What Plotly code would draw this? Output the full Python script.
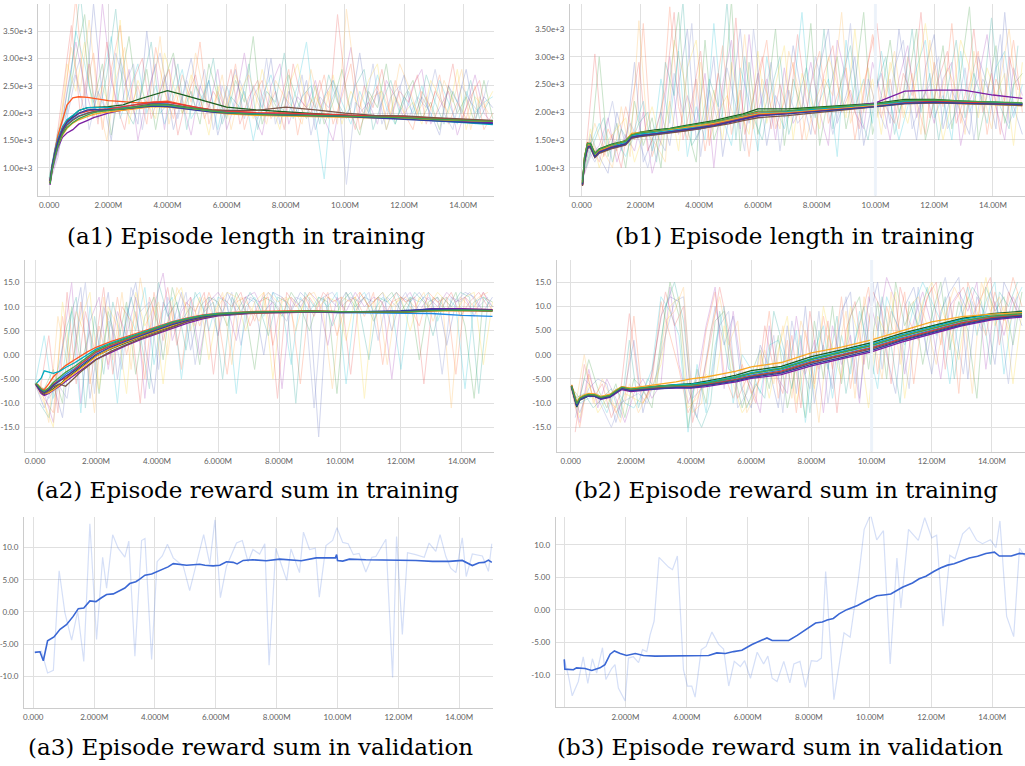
import plotly.graph_objects as go

# ---------------- step grids (millions of environment steps) ----------------
steps_smooth = [0.03, 0.1, 0.2, 0.3, 0.45, 0.6, 0.8, 1.0, 1.3, 1.5, 1.7, 2.0, 2.5, 3.0, 3.5,
                4.0, 4.5, 5.0, 5.5, 6.0, 7.0, 8.0, 9.0, 10.0, 11.0, 12.0, 13.0, 14.0, 15.0]
steps_raw = [0.0, 0.3, 0.6, 0.9, 1.2, 1.5, 1.8, 2.1, 2.4, 2.7,
             3.0, 3.3, 3.6, 3.9, 4.2, 4.5, 4.8, 5.1, 5.4, 5.7,
             6.0, 6.3, 6.6, 6.9, 7.2, 7.5, 7.8, 8.1, 8.4, 8.7,
             9.0, 9.3, 9.6, 9.9, 10.2, 10.5, 10.8, 11.1, 11.4, 11.7,
             12.0, 12.3, 12.6, 12.9, 13.2, 13.5, 13.8, 14.1, 14.4, 14.7,
             15.0]
steps_raw_mid = [0.15, 0.45, 0.75, 1.05, 1.35, 1.65, 1.95, 2.25, 2.55, 2.85,
                 3.15, 3.45, 3.75, 4.05, 4.35, 4.65, 4.95, 5.25, 5.55, 5.85,
                 6.15, 6.45, 6.75, 7.05, 7.35, 7.65, 7.95, 8.25, 8.55, 8.85,
                 9.15, 9.45, 9.75, 10.05, 10.35, 10.65, 10.95, 11.25, 11.55, 11.85,
                 12.15, 12.45, 12.75, 13.05, 13.35, 13.65, 13.95, 14.25, 14.55, 14.85]

# ---------------- tick labels ----------------
step_tick_vals = [0, 2, 4, 6, 8, 10, 12, 14]
step_tick_text = ["0.000", "2.000M", "4.000M", "6.000M", "8.000M", "10.00M", "12.00M", "14.00M"]
step_tick_text_b3 = ["", "2.000M", "4.000M", "6.000M", "8.000M", "10.00M", "12.00M", "14.00M"]
len_tick_vals = [1000, 1500, 2000, 2500, 3000, 3500]
len_tick_text = ["1.00e+3", "1.50e+3", "2.00e+3", "2.50e+3", "3.00e+3", "3.50e+3"]
rew_tick_vals = [-15, -10, -5, 0, 5, 10, 15]
rew_tick_text = ["-15.0", "-10.0", "-5.00", "0.00", "5.00", "10.0", "15.0"]
val_tick_vals = [-10, -5, 0, 5, 10]
val_tick_text = ["-10.0", "-5.00", "0.00", "5.00", "10.0"]

captions = ["(a1) Episode length in training", "(b1) Episode length in training",
            "(a2) Episode reward sum in training", "(b2) Episode reward sum in training",
            "(a3) Episode reward sum in validation", "(b3) Episode reward sum in validation"]

# ---------------- (a1) episode length, raw runs ----------------
a1_raw_1 = [780, 1450, 2600, 4100, 2300, 3100, 1700, 2800, 3600, 2000,
            2500, 1800, 3200, 2400, 1900, 2700, 2200, 3300, 1800, 2400,
            2000, 2900, 1700, 2300, 2600, 1900, 2200, 2800, 1600, 2400,
            2100, 2700, 1800, 2300, 2900, 1700, 2200, 2500, 1900, 2600,
            2000, 1700, 2400, 2100, 2700, 1800, 2200, 1900, 2500, 1700, 2000]
a1_raw_2 = [820, 1600, 2100, 3000, 3800, 2200, 2900, 1600, 2500, 3400,
            2100, 2800, 1700, 2600, 3100, 2000, 2400, 1800, 2900, 2300,
            1900, 2600, 2200, 3400, 1800, 2300, 2000, 2700, 2200, 1900,
            2500, 1800, 2200, 2800, 2000, 1600, 2400, 2100, 2900, 1800,
            2300, 2600, 1900, 2200, 1700, 2500, 2000, 2300, 1800, 2600, 1900]
a1_raw_3 = [760, 1300, 1900, 2700, 2000, 4000, 2300, 1500, 3000, 2300,
            1800, 3500, 2100, 2700, 1700, 2300, 3000, 2100, 2600, 1600,
            2200, 2800, 1900, 2500, 2100, 3000, 1800, 2400, 2000, 2600,
            1700, 2300, 2600, 1900, 2100, 3100, 2000, 2400, 1700, 2200,
            2700, 1900, 2300, 2000, 1600, 2500, 2200, 2800, 1900, 2300, 2100]
a1_raw_4 = [700, 1200, 2400, 3300, 2500, 1900, 4000, 2600, 2000, 2800,
            1500, 2300, 2900, 1700, 3000, 2200, 1600, 2500, 2100, 2800,
            1700, 2200, 3100, 2000, 1600, 2500, 2900, 1800, 2300, 2100,
            2600, 1900, 1500, 2400, 3200, 2000, 2200, 1800, 2600, 2300,
            1900, 2500, 2800, 1800, 2100, 2400, 1600, 2100, 2700, 2000, 1800]
a1_raw_5 = [800, 1700, 2000, 3500, 2900, 2100, 2600, 3400, 1900, 2400,
            2900, 2000, 2500, 1800, 2300, 2800, 1900, 2200, 2600, 1700,
            2500, 2000, 2400, 1500, 2300, 2700, 2100, 2000, 2500, 3300,
            1900, 800, 2600, 2200, 1800, 2400, 2000, 2700, 2100, 1800,
            2300, 2000, 2500, 1900, 2600, 2200, 1800, 2400, 2000, 2200, 2300]
a1_raw_6 = [740, 1400, 2900, 2400, 3300, 1900, 2500, 2000, 3700, 1800,
            2600, 2200, 1900, 3100, 2500, 2000, 2700, 2300, 1600, 2500,
            2100, 2700, 2300, 1900, 2800, 2200, 1700, 2500, 2900, 2100,
            2300, 2000, 2700, 1800, 2400, 2100, 2600, 2900, 1700, 2300,
            2000, 2200, 1800, 2600, 2300, 2000, 2800, 1700, 2300, 2100, 2400]
# raw runs logged on the intermediate steps
a1_raw_7 = [1100, 2300, 3600, 2000, 2900, 1800, 3300, 2200, 1700, 2600,
            3000, 1900, 2400, 2800, 1600, 2300, 2700, 1900, 2400, 2100,
            2800, 1800, 2300, 2600, 2000, 2400, 1700, 2900, 2200, 2000,
            2600, 1900, 3800, 2300, 1700, 2500, 2100, 2800, 1900, 2400,
            2200, 2700, 1800, 2400, 2100, 2900, 1900, 2300, 2600, 1800]
a1_raw_8 = [1250, 1900, 2800, 4200, 2500, 1900, 2700, 3900, 2100, 1800,
            2500, 3300, 2000, 2200, 2900, 1700, 2500, 2200, 3000, 1800,
            2300, 2100, 2900, 1700, 2400, 2200, 3100, 1900, 2300, 2500,
            1800, 2700, 2200, 1900, 2500, 2800, 1700, 2200, 2600, 2000,
            2400, 1900, 2700, 2200, 1800, 2400, 2000, 2600, 1900, 2200]
a1_raw_9 = [1000, 1600, 2500, 3000, 1700, 2400, 2000, 3100, 2500, 2900,
            1700, 2600, 3100, 2300, 1900, 2600, 2100, 2800, 1700, 2500,
            2000, 2600, 2100, 1900, 3000, 1800, 2300, 2000, 2700, 1600,
            2300, 2100, 2500, 700, 2200, 2000, 2900, 1800, 2300, 2500,
            1900, 2300, 2100, 2800, 2000, 1700, 2500, 2200, 2000, 2600]
a1_raw_10 = [1150, 2100, 3200, 2400, 3700, 2200, 1500, 2600, 3200, 2000,
             2300, 2100, 3400, 1800, 2500, 2000, 3100, 2300, 2000, 2700,
             1700, 2400, 2700, 2200, 1800, 2600, 2300, 2100, 1800, 2800,
             2100, 2400, 1800, 3900, 2600, 1900, 2300, 2400, 2000, 2900,
             2500, 2000, 2300, 1900, 2600, 2200, 2800, 1700, 2300, 2000]

# ---------------- (a1) episode length, smoothed runs ----------------
a1_run_1 = [780, 1050, 1350, 1600, 1900, 2150, 2280, 2300, 2290, 2270, 2250, 2230, 2210, 2190, 2200, 2220, 2160, 2100, 2060, 2040, 2010, 2000, 1980, 1950, 1930, 1910, 1900, 1870, 1850]
a1_run_2 = [720, 980, 1250, 1500, 1700, 1850, 1950, 2050, 2100, 2110, 2110, 2120, 2150, 2250, 2330, 2410, 2340, 2260, 2180, 2110, 2060, 2020, 1990, 1960, 1940, 1920, 1880, 1850, 1820]
a1_run_3 = [760, 1020, 1280, 1480, 1680, 1800, 1890, 1950, 2000, 2030, 2050, 2080, 2120, 2160, 2180, 2170, 2120, 2070, 2040, 2020, 1990, 1980, 1960, 1950, 1930, 1900, 1870, 1840, 1810]
a1_run_4 = [690, 950, 1180, 1380, 1560, 1640, 1700, 1800, 1870, 1920, 1950, 2000, 2060, 2100, 2130, 2120, 2090, 2060, 2040, 2020, 1990, 1980, 1960, 1950, 1940, 1910, 1880, 1850, 1830]
a1_run_5 = [780, 1060, 1330, 1540, 1750, 1880, 1960, 2050, 2100, 2100, 2090, 2090, 2100, 2120, 2140, 2130, 2100, 2070, 2030, 2010, 1990, 1960, 1950, 1940, 1930, 1900, 1860, 1830, 1790]
a1_run_6 = [740, 990, 1230, 1420, 1600, 1720, 1820, 1880, 1940, 1980, 2000, 2020, 2060, 2100, 2120, 2110, 2090, 2060, 2020, 1990, 1960, 1950, 1940, 1930, 1920, 1900, 1880, 1860, 1850]
a1_run_7 = [770, 1040, 1300, 1500, 1720, 1840, 1920, 1990, 2040, 2060, 2070, 2080, 2120, 2170, 2200, 2200, 2150, 2100, 2060, 2040, 2010, 2000, 1990, 1970, 1950, 1940, 1910, 1880, 1860]
a1_run_8 = [730, 1000, 1260, 1460, 1650, 1780, 1870, 1940, 2000, 2030, 2040, 2050, 2080, 2130, 2170, 2160, 2120, 2090, 2060, 2050, 2050, 2110, 2060, 2000, 1960, 1950, 1920, 1890, 1870]
a1_run_9 = [760, 1030, 1290, 1500, 1700, 1830, 1920, 2000, 2060, 2070, 2060, 2060, 2080, 2110, 2130, 2120, 2080, 2050, 2020, 2000, 1980, 1960, 1950, 1940, 1920, 1890, 1860, 1830, 1810]
a1_run_10 = [710, 970, 1220, 1400, 1620, 1740, 1830, 1900, 1970, 2010, 2030, 2050, 2090, 2120, 2150, 2150, 2110, 2070, 2040, 2010, 1980, 1970, 1960, 1950, 1930, 1920, 1890, 1870, 1850]

# ---------------- (b1) episode length, raw runs ----------------
b1_raw_1 = [720, 1500, 1100, 1700, 1300, 2100, 1500, 3600, 1200, 1700,
            3900, 2100, 1500, 2600, 1300, 2200, 3200, 1600, 2400, 1200,
            2500, 3300, 1700, 2200, 2900, 1500, 2500, 3100, 1800, 2300,
            2800, 1500, 2400, 3400, 1900, 2600, 1700, 3000, 2200, 1600,
            2900, 2100, 3600, 1800, 2500, 3100, 1600, 2600, 2200, 3300, 2000]
b1_raw_2 = [760, 1300, 3000, 1200, 1800, 1000, 2200, 1400, 1900, 1000,
            2600, 3800, 1700, 1100, 3300, 1500, 2000, 4000, 1300, 2900,
            1600, 2200, 3500, 1400, 2600, 2000, 3600, 1400, 2300, 3000,
            1700, 2500, 3800, 1600, 2300, 3300, 2000, 2500, 3500, 1500,
            2200, 3200, 1700, 2700, 3900, 1500, 2300, 3200, 1800, 2500, 2700]
b1_raw_3 = [690, 1600, 1200, 900, 2000, 1400, 2900, 1100, 1500, 2000,
            1400, 2500, 3500, 1500, 1900, 3000, 1200, 2200, 3500, 1800,
            2700, 1400, 2300, 1900, 3200, 2300, 1600, 2800, 3500, 1800,
            2300, 3000, 1400, 2200, 2700, 1800, 3500, 2400, 1500, 2800,
            3400, 1700, 2400, 2000, 1600, 3000, 2500, 1700, 3800, 2100, 1600]
b1_raw_4 = [740, 1200, 1400, 1900, 1100, 1600, 1300, 2000, 900, 1500,
            3000, 1600, 2300, 1800, 2700, 1000, 2500, 3300, 1700, 3400,
            2000, 2600, 1500, 2800, 1800, 2100, 2900, 2000, 1400, 3300,
            2600, 2000, 1700, 2900, 2300, 1500, 2600, 3200, 1900, 2400,
            1800, 2600, 2900, 1400, 2200, 2600, 3400, 2100, 1500, 2800, 2300]
b1_raw_5 = [800, 1400, 1800, 1300, 1500, 1200, 1700, 2200, 1300, 2600,
            1800, 3100, 1200, 2100, 1500, 3600, 1900, 1400, 2800, 2200,
            1300, 3000, 2100, 1700, 2300, 3800, 1900, 2200, 2600, 1200,
            3300, 2100, 2600, 1800, 3100, 2200, 1500, 2100, 2800, 3300,
            1900, 2300, 1500, 3100, 2000, 2400, 1800, 2800, 3100, 1900, 2500]
b1_raw_6 = [710, 1700, 1000, 1500, 1700, 1900, 1100, 1600, 2100, 1400,
            2200, 1300, 2800, 3300, 1700, 2400, 1500, 2900, 2000, 1600,
            3100, 1800, 2500, 3200, 1500, 2700, 2200, 1700, 3000, 2500,
            1900, 3500, 2000, 2600, 1600, 2900, 2300, 1800, 2600, 3600,
            2400, 1500, 2200, 3300, 2800, 1900, 2800, 2300, 2700, 1400, 2900]
b1_raw_7 = [1300, 3050, 1200, 1600, 1000, 2000, 2900, 1300, 1700, 2400,
            3800, 1500, 2200, 3100, 1400, 2700, 1800, 3700, 1600, 2300,
            3000, 1700, 2500, 1900, 3400, 2200, 1600, 2700, 3200, 2000,
            2400, 1700, 2900, 3600, 2100, 1800, 2700, 2300, 3800, 1900,
            2600, 3100, 1800, 2300, 3500, 2000, 2700, 1600, 3000, 2400]
b1_raw_8 = [1000, 1500, 1900, 1100, 1700, 1400, 1800, 2000, 1100, 2900,
            2300, 4000, 1400, 1700, 2600, 2100, 4000, 1500, 3000, 1900,
            1500, 2400, 3000, 1600, 2200, 2800, 1900, 3500, 1700, 2600,
            3200, 2000, 1500, 2500, 3000, 1600, 2300, 3500, 2000, 2700,
            1500, 2400, 3300, 1900, 2700, 2200, 3700, 2100, 1700, 3200]
b1_raw_9 = [1400, 1100, 1500, 2200, 1300, 1800, 1500, 1000, 1600, 1300,
            2700, 2000, 3600, 1200, 2400, 1800, 2800, 2100, 1300, 3500,
            2100, 2900, 1300, 2400, 1800, 2000, 3000, 2400, 1600, 2200,
            3600, 1500, 2600, 2100, 1700, 2800, 3300, 1700, 2200, 2500,
            3000, 1700, 2000, 2800, 1500, 2600, 2300, 3400, 1800, 2200]
b1_raw_10 = [1200, 1800, 1300, 1000, 2100, 1200, 3650, 1600, 1400, 1100,
             3300, 2700, 1800, 2900, 1500, 2000, 2300, 1800, 3400, 1700,
             2600, 2100, 1700, 3100, 2500, 1500, 2200, 2600, 2300, 3800,
             1800, 2300, 2800, 1900, 2400, 3100, 1900, 2700, 1600, 3300,
             2200, 2800, 2400, 1600, 3100, 2400, 1700, 2600, 3500, 2100]

# ---------------- (b1) episode length, smoothed runs ----------------
b1_run_1 = [680, 1200, 1450, 1420, 1250, 1330, 1360, 1390, 1440, 1470, 1590, 1620, 1650, 1680, 1720, 1760, 1810, 1870, 1930, 2000, 2020, 2070, 2110, 2150, 2200, 2210, 2190, 2170, 2150]
b1_run_2 = [720, 1180, 1430, 1440, 1260, 1340, 1380, 1420, 1460, 1490, 1600, 1640, 1680, 1710, 1760, 1800, 1850, 1910, 1970, 2060, 2060, 2090, 2120, 2160, 2230, 2230, 2200, 2180, 2160]
b1_run_3 = [700, 1120, 1380, 1390, 1210, 1290, 1330, 1370, 1410, 1440, 1560, 1590, 1620, 1650, 1690, 1730, 1780, 1840, 1900, 1960, 2000, 2040, 2080, 2120, 2180, 2190, 2170, 2150, 2130]
b1_run_4 = [690, 1100, 1350, 1370, 1190, 1270, 1310, 1350, 1390, 1420, 1540, 1570, 1600, 1630, 1670, 1700, 1750, 1810, 1870, 1930, 1980, 2030, 2100, 2170, 2380, 2400, 2400, 2310, 2250]
b1_run_5 = [710, 1160, 1410, 1410, 1230, 1310, 1350, 1390, 1430, 1460, 1580, 1610, 1640, 1670, 1710, 1750, 1800, 1860, 1920, 1980, 2010, 2060, 2100, 2140, 2200, 2210, 2200, 2180, 2150]
b1_run_6 = [700, 1170, 1420, 1400, 1240, 1320, 1350, 1400, 1450, 1480, 1620, 1640, 1660, 1690, 1720, 1760, 1800, 1860, 1910, 1970, 1990, 2030, 2070, 2110, 2160, 2170, 2150, 2140, 2120]
b1_run_7 = [690, 1140, 1390, 1380, 1200, 1290, 1330, 1370, 1400, 1430, 1550, 1580, 1610, 1640, 1680, 1720, 1770, 1830, 1890, 1950, 1980, 2020, 2060, 2100, 2170, 2200, 2180, 2160, 2140]
b1_run_8 = [670, 1100, 1360, 1360, 1180, 1260, 1300, 1340, 1380, 1410, 1530, 1560, 1590, 1620, 1660, 1700, 1740, 1790, 1850, 1900, 1940, 1990, 2040, 2090, 2150, 2170, 2160, 2140, 2120]
b1_run_9 = [700, 1130, 1370, 1390, 1200, 1280, 1320, 1360, 1400, 1430, 1550, 1580, 1610, 1640, 1680, 1720, 1760, 1820, 1880, 1940, 1970, 2010, 2060, 2100, 2160, 2180, 2160, 2150, 2140]
b1_run_10 = [730, 1190, 1440, 1430, 1250, 1330, 1370, 1410, 1450, 1480, 1590, 1630, 1660, 1700, 1740, 1780, 1830, 1890, 1950, 2020, 2030, 2080, 2110, 2150, 2210, 2220, 2200, 2190, 2170]

# ---------------- (a2) reward sum in training, raw runs ----------------
a2_raw_1 = [-6.0, -9.0, -12.0, 8.0, -4.0, 11.0, -6.0, 6.0, -2.0, 12.0,
            0.0, 9.0, -5.0, 13.0, 3.0, 10.0, -3.0, 12.0, 6.0, 13.0,
            8.0, -4.0, 11.0, 12.0, 7.0, 13.0, 2.0, 12.0, 10.0, -6.0,
            12.0, 9.0, 13.0, 4.0, 11.0, 12.0, 8.0, 13.0, -2.0, 11.0,
            12.0, 10.0, 6.0, 13.0, 11.0, 12.0, -4.0, 12.0, 10.0, 13.0, 9.0]
a2_raw_2 = [-6.0, -7.0, -3.0, -10.0, 10.0, -2.0, 5.0, -8.0, 9.0, 2.0,
            11.0, -4.0, 8.0, 12.0, -1.0, 14.0, 7.0, 10.0, -2.0, 12.0,
            11.0, 6.0, 13.0, 9.0, -3.0, 12.0, 11.0, 8.0, 13.0, 10.0,
            5.0, 12.0, 11.0, -8.0, 13.0, 10.0, 12.0, 7.0, 11.0, 13.0,
            9.0, 12.0, -1.0, 11.0, 12.0, 9.0, 13.0, 6.0, -9.0, 12.0, 11.0]
a2_raw_3 = [-6.0, -11.0, -6.0, -13.0, 4.0, 14.0, -9.0, 3.0, 13.0, -5.0,
            8.0, 15.0, 2.0, -8.0, 11.0, 6.0, 13.0, 1.0, 10.0, 12.0,
            4.0, 13.0, 9.0, 12.0, 11.0, 0.0, 13.0, 12.0, 9.0, 13.0,
            11.0, -17.0, 12.0, 10.0, 13.0, 9.0, 12.0, 11.0, 13.0, 5.0,
            12.0, 11.0, 13.0, 10.0, 12.0, 2.0, 11.0, 13.0, 12.0, 9.0, 12.0]
a2_raw_4 = [-6.0, -8.0, -14.0, 2.0, 15.0, -10.0, 7.0, 12.0, -3.0, 9.0,
            4.0, 12.0, -9.0, 10.0, 17.0, 3.0, 9.0, 12.0, 0.0, 11.0,
            13.0, 10.0, 3.0, 12.0, 13.0, 9.0, 11.0, -7.0, 12.0, 10.0,
            13.0, 11.0, 2.0, 12.0, 9.0, 13.0, 10.0, 12.0, 11.0, -5.0,
            11.0, 13.0, 9.0, 12.0, 10.0, 13.0, 11.0, 12.0, 8.0, 13.0, 10.0]
a2_raw_5 = [-6.0, 4.0, -9.0, -4.0, 9.0, -12.0, 10.0, -1.0, 7.0, -10.0,
            10.0, 5.0, 14.0, -2.0, 9.0, 12.0, -5.0, 11.0, 13.0, 5.0,
            12.0, 11.0, -8.0, 10.0, 12.0, 8.0, 13.0, 10.0, -2.0, 12.0,
            9.0, 12.0, 10.0, 13.0, -6.0, 11.0, 13.0, 9.0, 12.0, 10.0,
            -3.0, 12.0, 11.0, 13.0, 7.0, 12.0, 10.0, -7.0, 11.0, 12.0, 10.0]
a2_raw_6 = [-6.0, -10.0, -15.0, 11.0, -2.0, 7.0, 13.0, -7.0, 10.0, 6.0,
            -8.0, 13.0, 6.0, 10.0, -6.0, 11.0, 14.0, 5.0, 12.0, -1.0,
            10.0, 13.0, 12.0, 5.0, 11.0, 13.0, -5.0, 11.0, 12.0, 9.0,
            13.0, 10.0, 12.0, 11.0, 3.0, 12.0, -9.0, 11.0, 13.0, 10.0,
            12.0, 5.0, 12.0, 10.0, 13.0, 11.0, 9.0, 12.0, 13.0, -2.0, 11.0]
a2_raw_7 = [-8.0, 4.0, -12.0, 13.0, -6.0, 9.0, 1.0, 14.0, -4.0, 10.0,
            7.0, -10.0, 12.0, 6.0, 14.0, 2.0, 11.0, 9.0, 13.0, -4.0,
            12.0, 10.0, 13.0, 6.0, 11.0, 12.0, -9.0, 13.0, 10.0, 12.0,
            8.0, 13.0, 11.0, 12.0, -4.0, 13.0, 10.0, 12.0, 9.0, 13.0,
            11.0, 12.0, -6.0, 12.0, 10.0, 13.0, 8.0, 11.0, 13.0, 10.0]
a2_raw_8 = [-10.0, -13.0, -3.0, 6.0, 12.0, -11.0, 8.0, -4.0, 11.0, 3.0,
            12.0, 4.0, -7.0, 15.0, 8.0, 11.0, 1.0, 13.0, 9.0, 11.0,
            -5.0, 12.0, 9.0, 13.0, 10.0, 4.0, 12.0, 11.0, -10.0, 13.0,
            10.0, 12.0, 6.0, 11.0, 13.0, 9.0, -1.0, 12.0, 11.0, 13.0,
            9.0, 13.0, 11.0, 4.0, 12.0, 10.0, 13.0, 12.0, -8.0, 11.0]
a2_raw_9 = [-7.0, -9.0, -6.0, -9.0, 3.0, 15.0, -8.0, 10.0, 5.0, -3.0,
            14.0, 9.0, 11.0, -3.0, 12.0, 7.0, 13.0, -2.0, 10.0, 12.0,
            9.0, 13.0, 2.0, 12.0, 11.0, 13.0, 10.0, 7.0, 12.0, 11.0,
            -11.0, 12.0, 13.0, 10.0, 12.0, 11.0, 13.0, 3.0, 12.0, 10.0,
            13.0, 9.0, 12.0, 11.0, -4.0, 12.0, 11.0, 13.0, 10.0, 12.0]
a2_raw_10 = [-5.0, -14.0, 8.0, -2.0, 9.0, 4.0, -12.0, 12.0, -1.0, 13.0,
             -3.0, 16.0, 5.0, 11.0, 0.0, 14.0, 10.0, 6.0, 12.0, 8.0,
             13.0, -2.0, 12.0, 10.0, 7.0, 13.0, 11.0, 12.0, 5.0, 12.0,
             13.0, 9.0, -7.0, 12.0, 11.0, 13.0, 10.0, 12.0, -2.0, 11.0,
             12.0, 10.0, 13.0, 7.0, 12.0, -11.0, 12.0, 10.0, 12.0, 13.0]

# ---------------- (a2) reward sum in training, smoothed runs ----------------
a2_run_1 = [-6.0, -6.2, -7.0, -7.2, -6.0, -4.5, -3.3, -2.2, -1.0, -0.2, 0.6, 1.6, 2.8, 3.8, 4.9, 5.9, 6.9, 7.7, 8.3, 8.7, 9.0, 9.1, 9.2, 9.0, 9.0, 9.0, 9.4, 9.5, 9.4]
a2_run_2 = [-6.1, -6.9, -7.8, -8.2, -7.7, -7.0, -6.2, -5.0, -3.6, -2.6, -1.6, -0.2, 1.3, 2.6, 3.8, 4.9, 6.0, 7.0, 7.7, 8.3, 8.7, 8.9, 9.1, 9.0, 8.9, 8.8, 9.2, 9.3, 9.2]
a2_run_3 = [-5.9, -6.4, -7.2, -7.6, -7.0, -6.1, -5.0, -4.0, -2.8, -1.9, -1.0, 0.5, 2.0, 3.1, 4.3, 5.4, 6.5, 7.4, 8.0, 8.5, 8.8, 8.9, 9.0, 8.8, 8.7, 8.6, 8.6, 8.2, 8.0]
a2_run_4 = [-6.2, -7.0, -8.0, -8.4, -8.0, -7.3, -6.5, -5.5, -4.2, -3.2, -2.3, -0.9, 0.6, 2.0, 3.3, 4.4, 5.6, 6.6, 7.5, 8.1, 8.6, 8.8, 8.9, 8.8, 8.9, 9.0, 9.6, 9.6, 9.4]
a2_run_5 = [-6.0, -5.5, -4.8, -3.3, -3.6, -3.8, -3.4, -2.6, -1.6, -0.8, 0.0, 1.2, 2.5, 3.6, 4.7, 5.8, 6.8, 7.6, 8.2, 8.6, 8.9, 9.0, 9.0, 9.0, 9.1, 9.0, 9.2, 9.3, 9.2]
a2_run_6 = [-5.8, -6.5, -7.5, -8.0, -7.8, -7.2, -6.3, -5.2, -3.8, -2.8, -1.8, -0.3, 1.4, 2.7, 3.9, 5.0, 6.1, 7.1, 7.8, 8.3, 8.7, 8.8, 8.9, 9.0, 8.9, 8.9, 9.1, 9.2, 9.1]
a2_run_7 = [-6.1, -6.6, -7.5, -7.7, -7.0, -6.0, -5.3, -4.8, -3.0, -1.8, -0.9, 0.6, 2.0, 3.2, 4.4, 5.5, 6.6, 7.4, 8.0, 8.4, 8.9, 9.0, 9.1, 9.0, 8.9, 8.9, 9.2, 9.4, 9.3]
a2_run_8 = [-6.0, -6.8, -7.7, -8.0, -7.4, -6.6, -6.0, -6.5, -4.6, -3.5, -2.5, -1.0, 0.8, 2.2, 3.5, 4.6, 5.8, 6.9, 7.7, 8.2, 8.7, 8.9, 9.0, 8.9, 8.9, 8.9, 9.3, 9.2, 9.1]
a2_run_9 = [-6.0, -6.7, -7.4, -7.8, -7.2, -6.3, -5.4, -4.4, -3.2, -2.2, -1.3, 0.1, 1.7, 2.9, 4.1, 5.2, 6.3, 7.2, 7.9, 8.3, 8.8, 8.9, 9.0, 8.9, 9.0, 9.2, 9.5, 9.4, 9.3]
a2_run_10 = [-5.9, -6.4, -7.1, -7.5, -6.8, -5.7, -4.6, -3.6, -2.4, -1.5, -0.6, 0.9, 2.3, 3.4, 4.6, 5.7, 6.7, 7.5, 8.1, 8.5, 8.9, 9.0, 9.1, 9.0, 9.0, 8.9, 9.2, 9.3, 9.2]

# ---------------- (b2) reward sum in training, raw runs ----------------
b2_raw_1 = [-6.5, -15.0, -4.0, -10.0, -8.0, -12.0, -9.0, 8.0, -10.0, -6.0,
            11.0, 4.0, -3.0, -12.0, -8.0, 5.0, 13.0, -4.0, -9.0, -2.0,
            -8.0, -5.0, 9.0, -9.0, 3.0, -12.0, 5.0, -6.0, 8.0, -3.0,
            12.0, -7.0, 6.0, 14.0, -4.0, 10.0, 3.0, 13.0, -6.0, 9.0,
            14.0, 2.0, 12.0, -8.0, 15.0, 9.0, 4.0, 13.0, 7.0, 16.0, 10.0]
b2_raw_2 = [-6.5, -9.0, -1.0, -7.0, -11.0, -6.0, -13.0, -5.0, -7.0, -11.0,
            3.0, 15.0, 8.0, -15.0, -3.0, -10.0, 7.0, 9.0, -3.0, -11.0,
            -4.0, 1.0, -7.0, 4.0, -11.0, -2.0, -13.0, 7.0, -5.0, 10.0,
            -6.0, 8.0, 12.0, -3.0, 11.0, -5.0, 15.0, 6.0, 11.0, -2.0,
            8.0, 15.0, 1.0, 11.0, 5.0, -9.0, 14.0, 9.0, 12.0, 2.0, 13.0]
b2_raw_3 = [-6.5, -12.0, -7.0, -5.0, -6.0, -14.0, -7.0, 3.0, -12.0, -4.0,
            8.0, 12.0, 11.0, -7.0, -13.0, -1.0, 10.0, 2.0, 8.0, -7.0,
            -11.0, 2.0, -3.0, -11.0, 6.0, -8.0, 10.0, -10.0, 2.0, -7.0,
            9.0, 13.0, -9.0, 7.0, 15.0, 0.0, -8.0, 10.0, 14.0, 5.0,
            -4.0, 9.0, 13.0, 16.0, -5.0, 12.0, 8.0, -2.0, 15.0, 11.0, 6.0]
b2_raw_4 = [-6.5, -14.0, -3.0, -11.0, -5.0, -9.0, -14.0, -8.0, -5.0, -9.0,
            -6.0, 14.0, -2.0, -10.0, -5.0, 6.0, 14.0, -7.0, 9.0, -4.0,
            -6.0, -12.0, 6.0, -5.0, -8.0, 8.0, -4.0, 3.0, -12.0, 6.0,
            -2.0, 4.0, -10.0, 12.0, 5.0, 16.0, 11.0, -4.0, 7.0, 13.0,
            6.0, -5.0, 10.0, 13.0, 9.0, 15.0, -3.0, 11.0, 4.0, 12.0, 8.0]
b2_raw_5 = [-6.5, -10.0, -9.0, -8.0, -12.0, -7.0, -10.0, -11.0, -8.0, -3.0,
            12.0, 9.0, 4.0, -16.0, -2.0, -12.0, 2.0, 10.0, -10.0, 0.0,
            -3.0, -8.0, 2.0, 3.0, -3.0, 5.0, -14.0, 1.0, 6.0, -9.0,
            4.0, -4.0, 9.0, 2.0, -7.0, 12.0, 7.0, 2.0, 10.0, 15.0,
            11.0, 7.0, -6.0, 8.0, 14.0, 4.0, 11.0, 15.0, -4.0, 10.0, 14.0]
b2_raw_6 = [-6.5, -13.0, -6.0, -12.0, -9.0, -11.0, -8.0, -9.0, -10.0, -7.0,
            -2.0, 10.0, 12.0, -11.0, -9.0, -4.0, -6.0, 6.0, -6.0, -12.0,
            -9.0, 0.0, -9.0, 1.0, 8.0, -10.0, -1.0, -7.0, 10.0, 1.0,
            -5.0, 10.0, 3.0, -11.0, 8.0, 4.0, 13.0, -9.0, 4.0, 11.0,
            15.0, 10.0, 5.0, -1.0, 12.0, 7.0, 16.0, 6.0, 10.0, -6.0, 9.0]
b2_raw_7 = [-16.0, -2.0, -9.0, -6.0, -13.0, -8.0, 8.5, -6.0, -9.0, 2.0,
            13.0, 6.0, 10.0, -14.0, -6.0, 3.0, 14.0, 5.0, -9.0, -5.0,
            -10.0, 6.0, -3.0, -8.0, 4.0, -11.0, 9.0, -3.0, 7.0, -12.0,
            5.0, 11.0, -2.0, 13.0, 9.0, -6.0, 14.0, 7.0, 3.0, 12.0,
            15.0, -3.0, 11.0, 14.0, 8.0, 12.0, 16.0, 2.0, 13.0, 9.0]
b2_raw_8 = [-9.0, -8.0, -11.0, -9.0, -7.0, -13.0, 3.0, -11.0, -5.0, -7.0,
            10.0, 15.0, 7.0, -11.0, -15.0, -10.0, 9.0, -3.0, -4.0, -11.0,
            -6.0, -9.0, 9.0, 2.0, -7.0, 4.0, -12.0, 5.0, -3.0, 8.0,
            -8.0, 3.0, 10.0, -4.0, 12.0, 2.0, -10.0, 11.0, 6.0, 14.0,
            4.0, 12.0, -5.0, 9.0, 14.0, 11.0, -2.0, 13.0, 10.0, 15.0]
b2_raw_9 = [-13.0, -5.0, -7.0, -11.0, -15.0, -10.0, -9.0, -8.0, -10.0, -4.0,
            4.0, 11.0, 12.0, -9.0, -7.0, -6.0, 6.0, 9.0, -11.0, -8.0,
            -3.0, -4.0, 4.0, -12.0, 7.0, -2.0, -7.0, 9.0, -10.0, 3.0,
            12.0, -6.0, 6.0, 15.0, -3.0, 9.0, 5.0, -7.0, 14.0, 0.0,
            10.0, 16.0, 6.0, -4.0, 11.0, 5.0, 13.0, 8.0, -6.0, 12.0]
b2_raw_10 = [-11.0, 0.0, -10.0, -5.0, -9.0, -14.0, -6.0, -12.0, -8.0, -6.0,
             7.0, 9.0, 14.0, -12.0, -10.0, 5.0, 12.0, 2.0, 7.0, -12.0,
             -8.0, 1.0, -6.0, 6.0, -9.0, 7.0, 1.0, -14.0, 4.0, -1.0,
             9.0, -9.0, 12.0, 4.0, -5.0, 13.0, -2.0, 10.0, 12.0, 6.0,
             -2.0, 8.0, 14.0, 10.0, -8.0, 15.0, 9.0, 12.0, 5.0, 13.0]

# ---------------- (b2) reward sum in training, smoothed runs ----------------
b2_run_1 = [-6.3, -7.8, -10.0, -9.0, -8.5, -8.2, -8.3, -8.8, -8.4, -7.5, -6.6, -7.0, -6.7, -6.4, -6.3, -6.2, -5.8, -5.2, -4.6, -3.8, -2.8, -0.9, 0.5, 2.0, 3.9, 5.5, 7.0, 8.0, 8.5]
b2_run_2 = [-6.8, -8.3, -10.8, -9.4, -8.9, -8.5, -8.6, -9.0, -8.6, -7.7, -6.9, -7.1, -6.8, -6.4, -6.2, -6.0, -5.5, -4.9, -4.2, -3.3, -2.4, -0.4, 1.0, 2.5, 4.4, 6.0, 7.5, 8.5, 9.0]
b2_run_3 = [-6.4, -8.1, -10.3, -9.2, -8.7, -8.4, -8.5, -9.0, -8.6, -7.7, -6.9, -7.3, -7.0, -6.7, -6.6, -6.5, -6.1, -5.5, -4.9, -4.2, -3.2, -1.3, 0.1, 1.6, 3.5, 5.1, 6.7, 7.8, 8.3]
b2_run_4 = [-6.6, -8.2, -10.5, -9.3, -8.8, -8.5, -8.6, -9.2, -8.8, -8.0, -7.2, -7.6, -7.3, -7.0, -6.9, -6.9, -6.6, -6.1, -5.6, -4.9, -4.1, -2.3, -0.9, 0.6, 2.6, 4.3, 6.0, 7.2, 7.8]
b2_run_5 = [-6.5, -7.9, -10.0, -8.9, -8.4, -8.2, -8.2, -8.7, -8.3, -7.4, -6.7, -7.0, -6.7, -6.4, -6.2, -6.1, -5.7, -5.1, -4.5, -3.7, -2.7, -0.8, 0.7, 2.2, 4.1, 5.7, 7.3, 8.3, 8.8]
b2_run_6 = [-6.2, -7.6, -9.8, -8.8, -8.3, -8.0, -8.1, -8.6, -8.2, -7.3, -6.6, -6.9, -6.5, -6.0, -5.6, -5.0, -4.6, -4.0, -3.4, -2.5, -1.6, 0.4, 1.6, 3.1, 5.0, 6.8, 7.9, 8.4, 8.7]
b2_run_7 = [-6.6, -8.0, -10.2, -9.1, -8.6, -8.3, -8.4, -8.9, -8.5, -7.6, -6.8, -7.3, -7.0, -6.8, -6.7, -6.6, -6.2, -5.7, -5.1, -4.4, -3.4, -1.5, 0.0, 1.4, 3.3, 4.9, 6.6, 7.7, 8.2]
b2_run_8 = [-6.4, -8.1, -10.4, -9.2, -8.7, -8.4, -8.5, -9.0, -8.6, -7.8, -7.0, -7.4, -7.1, -6.8, -6.7, -6.7, -6.3, -5.8, -5.2, -4.5, -3.6, -1.7, -0.3, 1.2, 3.1, 4.7, 6.4, 7.5, 8.1]
b2_run_9 = [-6.7, -8.4, -10.6, -9.3, -8.8, -8.5, -8.6, -9.1, -8.7, -7.8, -7.0, -7.4, -7.2, -6.9, -6.8, -6.8, -6.4, -5.9, -5.4, -4.7, -3.8, -2.0, -0.6, 0.9, 2.9, 4.5, 6.2, 7.4, 8.0]
b2_run_10 = [-6.5, -8.0, -10.1, -9.0, -8.5, -8.2, -8.3, -8.8, -8.4, -7.5, -6.7, -7.1, -6.8, -6.5, -6.4, -6.3, -5.9, -5.3, -4.7, -3.9, -2.9, -1.0, 0.4, 1.9, 3.8, 5.4, 7.0, 8.0, 8.5]

# ---------------- (a3) reward sum in validation ----------------
a3_raw_steps = [0.05, 0.27, 0.47, 0.66, 0.85, 1.04, 1.26, 1.46, 1.66, 1.86, 2.08, 2.28, 2.41, 2.61, 2.79,
                3.01, 3.14, 3.34, 3.56, 3.67, 3.89, 4.07, 4.24, 4.41, 4.60, 4.93, 5.14, 5.36, 5.60, 5.80,
                5.97, 6.15, 6.35, 6.68, 6.87, 7.06, 7.22, 7.44, 7.61, 7.75, 7.97, 8.33, 8.47, 8.75, 8.88,
                9.08, 9.27, 9.40, 9.62, 9.84, 9.98, 10.17, 10.35, 10.52, 10.71, 10.93, 11.13, 11.26, 11.48,
                11.59, 11.81, 11.94, 12.13, 12.30, 12.57, 12.85, 13.01, 13.23, 13.37, 13.56, 13.72, 13.89,
                14.10, 14.23, 14.43, 14.76, 14.96, 15.07]
a3_raw_values = [-6.3, -6.1, -9.5, -9.1, 6.4, -0.15, -4.4, 0.1, -7.7, 13.7, -4.3, 8.5, 3.7, 12.0, 9.9,
                 8.5, 11.0, -6.9, 11.1, 11.4, -7.4, 7.8, 8.7, 10.5, 8.4, 7.1, 3.3, 7.3, 12.0, 7.45,
                 14.3, 2.2, 7.1, 10.7, 11.1, 7.8, 9.7, 9.0, 10.6, -8.3, 9.9, 4.9, 9.8, 6.1, 12.4,
                 9.7, 9.9, 2.3, 10.3, 11.1, 13.1, 10.8, 10.6, 8.9, 9.1, 6.2, 8.5, 8.6, 10.5,
                 11.3, -10.2, 11.7, -3.5, 9.2, 8.9, 8.5, 10.7, 9.4, 12.0, 8.6, 6.8, 6.1,
                 11.5, 5.5, 9.0, 8.7, 6.3, 10.6]
a3_smooth_steps = [0.05, 0.22, 0.33, 0.47, 0.68, 0.88, 1.09, 1.31, 1.48, 1.66, 1.86, 2.06, 2.24, 2.41, 2.63,
                   2.85, 3.01, 3.17, 3.37, 3.50, 3.67, 3.89, 4.05, 4.27, 4.43, 4.60, 4.82, 5.04, 5.47, 5.64,
                   5.91, 6.13, 6.35, 6.57, 6.70, 6.90, 7.22, 7.44, 7.66, 8.10, 8.42, 8.81, 9.30, 9.93, 9.97,
                   10.00, 10.17, 10.39, 10.93, 11.48, 12.03, 12.57, 13.12, 13.67, 14.10, 14.43, 14.65, 14.82,
                   14.96, 15.07]
a3_smooth_values = [-6.3, -6.2, -7.6, -4.5, -3.9, -2.7, -2.0, -0.7, 0.5, 0.6, 1.7, 1.6, 2.2, 2.7, 2.8,
                    3.3, 3.7, 4.4, 4.7, 5.1, 5.7, 5.9, 6.2, 6.6, 7.0, 7.5, 7.35, 7.25, 7.4, 7.25,
                    7.15, 7.25, 7.8, 7.7, 7.45, 8.0, 8.1, 8.0, 7.95, 8.2, 8.1, 7.95, 8.4, 8.4, 8.9,
                    8.0, 7.9, 8.2, 8.1, 8.05, 8.1, 8.0, 7.85, 7.85, 8.0, 7.2, 7.65, 7.7,
                    8.05, 7.7]

# ---------------- (b3) reward sum in validation ----------------
b3_raw_steps = [0.0, 0.13, 0.26, 0.46, 0.62, 0.77, 0.92, 1.06, 1.25, 1.36, 1.55, 1.66, 1.77, 1.99, 2.10,
                2.26, 2.43, 2.56, 2.70, 2.81, 2.94, 3.10, 3.41, 3.54, 3.70, 3.90, 4.03, 4.17, 4.28, 4.48,
                4.64, 4.83, 5.05, 5.21, 5.38, 5.56, 5.76, 5.90, 6.09, 6.31, 6.52, 6.66, 6.80, 6.96, 7.18,
                7.38, 7.51, 7.71, 7.89, 8.08, 8.27, 8.41, 8.55, 8.82, 9.15, 9.35, 9.61, 9.81, 10.02, 10.22,
                10.44, 10.66, 10.88, 11.01, 11.26, 11.58, 11.79, 12.02, 12.18, 12.39, 12.61, 12.78, 13.03,
                13.25, 13.49, 13.68, 13.94, 14.12, 14.25, 14.47, 14.70, 14.89, 15.11]
b3_raw_values = [-7.6, -10.0, -13.2, -11.0, -7.2, -11.3, -7.5, -9.7, -5.8, -10.7, -9.0, -8.4, -12.0, -14.0, -7.4,
                 -7.2, -8.1, -6.1, -6.4, -3.8, -1.7, 8.1, 6.6, 6.2, 8.3, -9.2, -11.7, -11.7, -13.4, -6.1,
                 -5.6, -3.4, -5.3, -6.0, -11.7, -7.9, -8.7, -7.8, -10.5, -6.5, -8.3, -7.1, -10.5, -11.0, -7.9,
                 -11.2, -8.3, -7.9, -11.9, -7.8, -7.9, -7.4, 5.9, -13.8, -3.5, -4.2, 4.4, 12.4, 14.7, 10.8,
                 12.2, -8.3, 8.0, 0.3, 12.4, 10.7, 14.2, 11.1, 11.5, -2.5, 8.4, 7.9, 11.7,
                 12.7, 10.7, 10.2, 10.8, 9.6, 13.7, -1.0, -4.1, 9.5, 8.0]
b3_smooth_steps = [0.0, 0.02, 0.30, 0.40, 0.68, 0.90, 1.17, 1.33, 1.50, 1.64, 1.83, 2.04, 2.32, 2.59, 2.97,
                   3.52, 3.85, 4.39, 4.72, 4.99, 5.27, 5.54, 5.81, 6.14, 6.36, 6.63, 6.80, 7.07, 7.34, 7.62,
                   7.89, 8.22, 8.44, 8.60, 8.80, 8.99, 9.24, 9.59, 9.91, 10.22, 10.51, 10.68, 11.06, 11.39,
                   11.61, 11.83, 12.10, 12.32, 12.54, 12.75, 12.97, 13.25, 13.52, 13.79, 14.07, 14.23, 14.62,
                   14.89, 15.11]
b3_smooth_values = [-7.6, -9.1, -9.2, -8.9, -9.0, -9.3, -8.9, -8.4, -6.8, -6.3, -6.7, -7.0, -6.7, -7.0, -7.1,
                    -7.1, -7.0, -7.0, -7.0, -6.6, -6.7, -6.4, -6.2, -5.3, -4.8, -4.3, -4.7, -4.7, -4.7, -3.9,
                    -3.0, -2.0, -1.85, -1.55, -1.3, -0.6, 0.05, 0.7, 1.5, 2.2, 2.35, 2.45, 3.5, 4.15,
                    4.8, 5.2, 5.95, 6.5, 6.9, 7.1, 7.5, 8.0, 8.25, 8.7, 8.9, 8.3, 8.3,
                    8.7, 8.6]

cursor_step = 10.0  # hover cursor visible in (b1) and (b2)

# ---------------- styling ----------------
W, H = 1025, 766
smooth_colors = ["#ff5722", "#1b5e20", "#1e88e5", "#7b1fa2", "#00acc1",
                 "#f9a825", "#e53935", "#795548", "#303f9f", "#43a047"]
raw_colors = ["#ff7043", "#43a047", "#5c6bc0", "#ab47bc", "#26c6da", "#fdd835",
              "#ef5350", "#26a69a", "#7986cb", "#ffb74d"]
VAL_RAW = "rgba(66,110,220,0.22)"
VAL_SMOOTH = "#3a67d4"
TICK_FONT = dict(family="Lato, Roboto, sans-serif", size=8, color="#616161")
GRID = "#e0e0e0"
AXLINE = "#cccccc"

# pixel boxes of each plot area: (left, right, top, bottom), axis ranges
panels = [
    dict(box=(38, 494, 4, 195.5), xr=(-0.378, 15.04), yr=(498, 3993), yt=(len_tick_vals, len_tick_text), xt=step_tick_text),
    dict(box=(570, 1025, 4, 195.7), xr=(-0.395, 15.09), yr=(495, 3951), yt=(len_tick_vals, len_tick_text), xt=step_tick_text),
    dict(box=(25, 494.3, 260, 451.7), xr=(-0.33, 15.06), yr=(-20.06, 19.7), yt=(rew_tick_vals, rew_tick_text), xt=step_tick_text),
    dict(box=(556.7, 1025, 260, 451.7), xr=(-0.466, 15.1), yr=(-20.05, 19.6), yt=(rew_tick_vals, rew_tick_text), xt=step_tick_text),
    dict(box=(24, 492.7, 516.7, 707.7), xr=(-0.305, 15.1), yr=(-14.9, 14.8), yt=(val_tick_vals, val_tick_text), xt=step_tick_text),
    dict(box=(555.7, 1025, 516.7, 707.3), xr=(-0.28, 15.07), yr=(-14.97, 14.35), yt=(val_tick_vals, val_tick_text), xt=step_tick_text_b3),
]
caption_pos = [(246, 236), (794, 236), (247, 490), (786, 490), (250, 747), (780, 747)]

fig = go.Figure()


def axis_ids(i):
    n = "" if i == 0 else str(i + 1)
    return "x" + n, "y" + n


def add_training(i, raws, runs):
    xa, ya = axis_ids(i)
    for k, vals in enumerate(raws):
        grid = steps_raw if k < 6 else steps_raw_mid
        fig.add_trace(go.Scatter(x=grid[:len(vals)], y=vals, mode="lines",
                                 line=dict(color=raw_colors[k % len(raw_colors)], width=1),
                                 opacity=0.28, xaxis=xa, yaxis=ya, hoverinfo="skip", showlegend=False))
    for k, vals in enumerate(runs):
        fig.add_trace(go.Scatter(x=steps_smooth[:len(vals)], y=vals, mode="lines",
                                 line=dict(color=smooth_colors[k % len(smooth_colors)], width=1.3),
                                 xaxis=xa, yaxis=ya, hoverinfo="skip", showlegend=False))


def add_validation(i, rx, ry, sx, sy):
    xa, ya = axis_ids(i)
    fig.add_trace(go.Scatter(x=rx, y=ry, mode="lines", line=dict(color=VAL_RAW, width=1.2),
                             xaxis=xa, yaxis=ya, hoverinfo="skip", showlegend=False))
    fig.add_trace(go.Scatter(x=sx, y=sy, mode="lines", line=dict(color=VAL_SMOOTH, width=1.6),
                             xaxis=xa, yaxis=ya, hoverinfo="skip", showlegend=False))


add_training(0, [a1_raw_1, a1_raw_2, a1_raw_3, a1_raw_4, a1_raw_5, a1_raw_6, a1_raw_7, a1_raw_8, a1_raw_9, a1_raw_10],
             [a1_run_1, a1_run_2, a1_run_3, a1_run_4, a1_run_5, a1_run_6, a1_run_7, a1_run_8, a1_run_9, a1_run_10])
add_training(1, [b1_raw_1, b1_raw_2, b1_raw_3, b1_raw_4, b1_raw_5, b1_raw_6, b1_raw_7, b1_raw_8, b1_raw_9, b1_raw_10],
             [b1_run_1, b1_run_2, b1_run_3, b1_run_4, b1_run_5, b1_run_6, b1_run_7, b1_run_8, b1_run_9, b1_run_10])
add_training(2, [a2_raw_1, a2_raw_2, a2_raw_3, a2_raw_4, a2_raw_5, a2_raw_6, a2_raw_7, a2_raw_8, a2_raw_9, a2_raw_10],
             [a2_run_1, a2_run_2, a2_run_3, a2_run_4, a2_run_5, a2_run_6, a2_run_7, a2_run_8, a2_run_9, a2_run_10])
add_training(3, [b2_raw_1, b2_raw_2, b2_raw_3, b2_raw_4, b2_raw_5, b2_raw_6, b2_raw_7, b2_raw_8, b2_raw_9, b2_raw_10],
             [b2_run_1, b2_run_2, b2_run_3, b2_run_4, b2_run_5, b2_run_6, b2_run_7, b2_run_8, b2_run_9, b2_run_10])
add_validation(4, a3_raw_steps, a3_raw_values, a3_smooth_steps, a3_smooth_values)
add_validation(5, b3_raw_steps, b3_raw_values, b3_smooth_steps, b3_smooth_values)

layout = dict(width=W, height=H, margin=dict(l=0, r=0, t=0, b=0),
              paper_bgcolor="white", plot_bgcolor="white", showlegend=False)

for i, p in enumerate(panels):
    l, r, t, b = p["box"]
    n = "" if i == 0 else str(i + 1)
    xa, ya = axis_ids(i)
    layout["xaxis" + n] = dict(domain=[l / W, r / W], range=list(p["xr"]), anchor=ya,
                               tickvals=step_tick_vals, ticktext=p["xt"], tickfont=TICK_FONT,
                               showgrid=True, gridcolor=GRID, gridwidth=1, zeroline=False,
                               showline=True, linecolor=AXLINE, linewidth=1,
                               ticks="outside", ticklen=2, tickcolor="rgba(0,0,0,0)", fixedrange=True)
    layout["yaxis" + n] = dict(domain=[1 - b / H, 1 - t / H], range=list(p["yr"]), anchor=xa,
                               tickvals=p["yt"][0], ticktext=p["yt"][1], tickfont=TICK_FONT,
                               showgrid=True, gridcolor=GRID, gridwidth=1, zeroline=False,
                               showline=True, linecolor=AXLINE, linewidth=1,
                               ticks="outside", ticklen=3, tickcolor="rgba(0,0,0,0)", fixedrange=True)

fig.update_layout(**layout)

# hover cursor line in (b1) and (b2)
for i in (1, 3):
    xa, ya = axis_ids(i)
    fig.add_shape(type="line", xref=xa, yref=ya + " domain", x0=cursor_step, x1=cursor_step, y0=0, y1=1,
                  line=dict(color="rgba(236,242,250,0.95)", width=3), layer="above")

for text, (cx, cy) in zip(captions, caption_pos):
    fig.add_annotation(text=text, x=cx / W, y=1 - cy / H, xref="paper", yref="paper",
                       xanchor="center", yanchor="middle", showarrow=False,
                       font=dict(family="DejaVu Serif", size=23, color="black"))

fig.write_html("out.html", config={"displayModeBar": False},
               post_script="document.body.style.margin='0px';document.body.style.overflow='hidden';")
